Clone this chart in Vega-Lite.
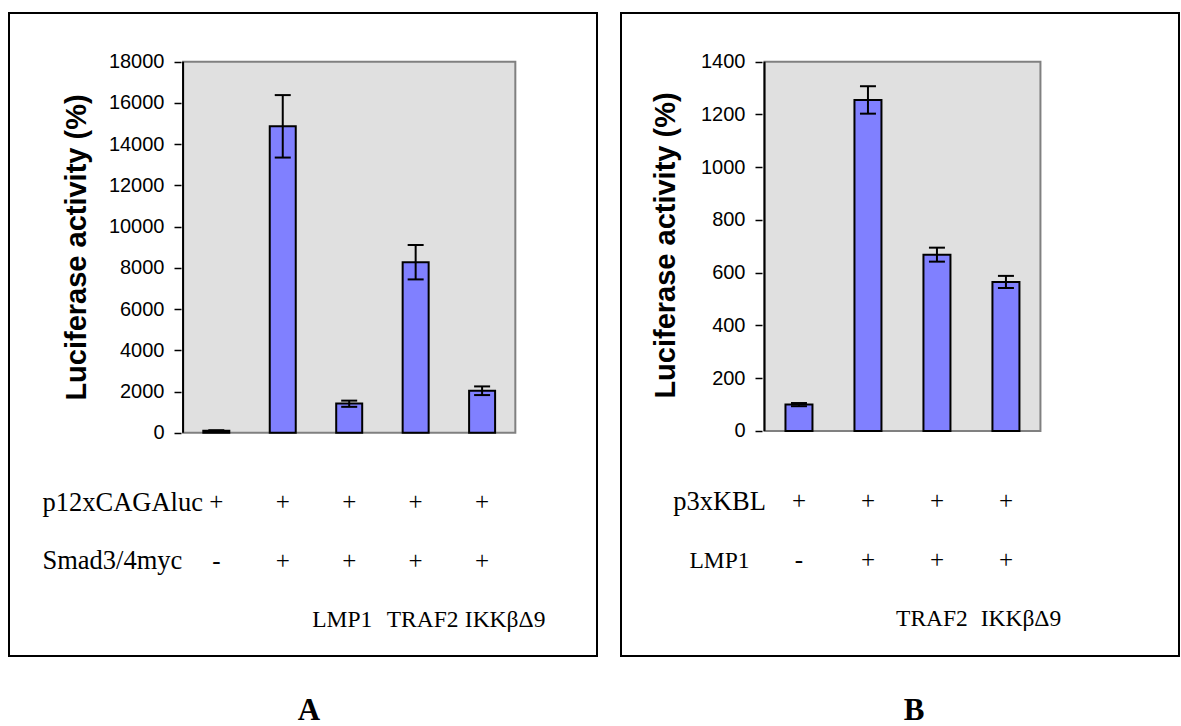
{
  "$schema": "https://vega.github.io/schema/vega-lite/v6.json",
  "background": "white",
  "padding": {"left": 8, "top": 12, "right": 0, "bottom": 0},
  "autosize": {"type": "pad"},
  "config": {"view": {"stroke": "black", "strokeWidth": 2, "fill": "white"}},
  "spacing": 22,
  "datasets": {
    "barsA": [
      {"lane": 1, "sample": "control", "value": 100, "lo": 75, "hi": 125},
      {"lane": 2, "sample": "Smad3/4myc", "value": 14870, "lo": 13350, "hi": 16380},
      {"lane": 3, "sample": "LMP1", "value": 1420, "lo": 1260, "hi": 1560},
      {"lane": 4, "sample": "TRAF2", "value": 8270, "lo": 7440, "hi": 9110},
      {"lane": 5, "sample": "IKKβΔ9", "value": 2040, "lo": 1830, "hi": 2250}
    ],
    "cellsA": [
      {"lane": 1, "row": "p12xCAGAluc", "sign": "+"},
      {"lane": 2, "row": "p12xCAGAluc", "sign": "+"},
      {"lane": 3, "row": "p12xCAGAluc", "sign": "+"},
      {"lane": 4, "row": "p12xCAGAluc", "sign": "+"},
      {"lane": 5, "row": "p12xCAGAluc", "sign": "+"},
      {"lane": 1, "row": "Smad3/4myc", "sign": "-"},
      {"lane": 2, "row": "Smad3/4myc", "sign": "+"},
      {"lane": 3, "row": "Smad3/4myc", "sign": "+"},
      {"lane": 4, "row": "Smad3/4myc", "sign": "+"},
      {"lane": 5, "row": "Smad3/4myc", "sign": "+"}
    ],
    "genesA": [
      {"lane": 3, "row": "genes", "name": "LMP1"},
      {"lane": 4, "row": "genes", "name": "TRAF2"},
      {"lane": 5, "row": "genes", "name": "IKKβΔ9"}
    ],
    "barsB": [
      {"lane": 1, "sample": "control", "value": 100, "lo": 94, "hi": 106},
      {"lane": 2, "sample": "LMP1", "value": 1255, "lo": 1203, "hi": 1307},
      {"lane": 3, "sample": "TRAF2", "value": 668, "lo": 642, "hi": 695},
      {"lane": 4, "sample": "IKKβΔ9", "value": 565, "lo": 542, "hi": 588}
    ],
    "cellsB": [
      {"lane": 1, "row": "p3xKBL", "sign": "+"},
      {"lane": 2, "row": "p3xKBL", "sign": "+"},
      {"lane": 3, "row": "p3xKBL", "sign": "+"},
      {"lane": 4, "row": "p3xKBL", "sign": "+"},
      {"lane": 1, "row": "LMP1", "sign": "-"},
      {"lane": 2, "row": "LMP1", "sign": "+"},
      {"lane": 3, "row": "LMP1", "sign": "+"},
      {"lane": 4, "row": "LMP1", "sign": "+"}
    ],
    "genesB": [
      {"lane": 3, "row": "genes", "name": "TRAF2"},
      {"lane": 4, "row": "genes", "name": "IKKβΔ9"}
    ]
  },
  "hconcat": [
    {
      "width": 588,
      "height": 643,
      "title": {"text": "A", "orient": "bottom", "anchor": "middle", "frame": "group", "font": "Liberation Serif", "fontSize": 31, "fontWeight": "bold", "color": "black", "baseline": "alphabetic", "offset": 64, "dx": 6},
      "resolve": {"scale": {"y": "independent"}, "axis": {"y": "independent"}},
      "layer": [
        {
          "layer": [
            {
              "data": {"values": [{}]},
              "mark": {"type": "rect", "fill": "#e0e0e0", "stroke": "#808080", "strokeWidth": 2, "opacity": 1},
              "encoding": {
                "x": {"datum": 0.5, "type": "quantitative", "scale": {"domain": [-2.0444, 6.6538], "nice": false, "zero": false}, "axis": null},
                "x2": {"datum": 5.5},
                "y": {"datum": 0, "type": "quantitative", "title": "Luciferase activity (%)",
                  "scale": {"domain": [-10826, 20362], "nice": false, "zero": false},
                  "axis": {"orient": "left", "offset": -172, "values": [0, 2000, 4000, 6000, 8000, 10000, 12000, 14000, 16000, 18000], "format": "d", "domain": false, "grid": false, "ticks": true, "tickSize": 7, "tickWidth": 1.5, "tickColor": "black", "labelPadding": 10, "labelFont": "Liberation Sans", "labelFontSize": 20, "labelColor": "black", "labelOverlap": false, "labelFlush": false, "title": "Luciferase activity (%)", "titleFont": "Liberation Sans", "titleFontSize": 29, "titleFontWeight": "bold", "titleColor": "black", "titleX": -90, "titleY": 234, "titleAngle": 270, "titleBaseline": "bottom", "titleAlign": "center", "zindex": 1}},
                "y2": {"datum": 18000}
              }
            },
            {
              "data": {"values": [{}]},
              "mark": {"type": "rule", "stroke": "black", "strokeWidth": 2},
              "encoding": {
                "x": {"datum": 0.5, "type": "quantitative", "axis": null},
                "y": {"datum": 0, "type": "quantitative", "title": "Luciferase activity (%)"},
                "y2": {"datum": 18000}
              }
            },
            {
              "data": {"name": "barsA"},
              "mark": {"type": "bar", "size": 26, "fill": "#8080ff", "stroke": "black", "strokeWidth": 2, "opacity": 1},
              "encoding": {
                "x": {"field": "lane", "type": "quantitative", "axis": null},
                "y": {"field": "value", "type": "quantitative", "title": "Luciferase activity (%)"},
                "y2": {"datum": 0}
              }
            },
            {
              "data": {"name": "barsA"},
              "mark": {"type": "rule", "stroke": "black", "strokeWidth": 2},
              "encoding": {
                "x": {"field": "lane", "type": "quantitative", "axis": null},
                "y": {"field": "lo", "type": "quantitative", "title": "Luciferase activity (%)"},
                "y2": {"field": "hi"}
              }
            },
            {
              "data": {"name": "barsA"},
              "mark": {"type": "tick", "orient": "horizontal", "size": 16, "thickness": 2, "color": "black", "opacity": 1},
              "encoding": {
                "x": {"field": "lane", "type": "quantitative", "axis": null},
                "y": {"field": "lo", "type": "quantitative", "title": "Luciferase activity (%)"}
              }
            },
            {
              "data": {"name": "barsA"},
              "mark": {"type": "tick", "orient": "horizontal", "size": 16, "thickness": 2, "color": "black", "opacity": 1},
              "encoding": {
                "x": {"field": "lane", "type": "quantitative", "axis": null},
                "y": {"field": "hi", "type": "quantitative", "title": "Luciferase activity (%)"}
              }
            }
          ]
        },
        {
          "layer": [
            {
              "data": {"name": "cellsA"},
              "mark": {"type": "text", "font": "Liberation Serif", "fontSize": 25, "align": "center", "baseline": "alphabetic", "color": "black"},
              "encoding": {
                "x": {"field": "lane", "type": "quantitative", "axis": null},
                "y": {"field": "row", "type": "ordinal", "title": null,
                  "scale": {"type": "point", "domain": ["p12xCAGAluc", "Smad3/4myc", "genes"], "range": [497, 614], "padding": 0},
                  "axis": {"orient": "left", "offset": -33, "values": ["p12xCAGAluc", "Smad3/4myc"], "domain": false, "ticks": false, "tickSize": 0, "grid": false, "labelPadding": 0, "labelAlign": "left", "labelBaseline": "alphabetic", "labelFont": "Liberation Serif", "labelFontSize": 26.5, "labelColor": "black", "labelLimit": 400, "labelOverlap": false, "title": null}},
                "text": {"field": "sign"}
              }
            },
            {
              "data": {"name": "genesA"},
              "transform": [{"filter": "datum.name === 'LMP1'"}],
              "mark": {"type": "text", "font": "Liberation Serif", "fontSize": 23.5, "align": "center", "baseline": "alphabetic", "color": "black", "dx": -7},
              "encoding": {
                "x": {"field": "lane", "type": "quantitative", "axis": null},
                "y": {"field": "row", "type": "ordinal", "title": null},
                "text": {"field": "name"}
              }
            },
            {
              "data": {"name": "genesA"},
              "transform": [{"filter": "datum.name === 'TRAF2'"}],
              "mark": {"type": "text", "font": "Liberation Serif", "fontSize": 23.5, "align": "center", "baseline": "alphabetic", "color": "black", "dx": 7},
              "encoding": {
                "x": {"field": "lane", "type": "quantitative", "axis": null},
                "y": {"field": "row", "type": "ordinal", "title": null},
                "text": {"field": "name"}
              }
            },
            {
              "data": {"name": "genesA"},
              "transform": [{"filter": "datum.name === 'IKKβΔ9'"}],
              "mark": {"type": "text", "font": "Liberation Serif", "fontSize": 23.5, "align": "center", "baseline": "alphabetic", "color": "black", "dx": 23},
              "encoding": {
                "x": {"field": "lane", "type": "quantitative", "axis": null},
                "y": {"field": "row", "type": "ordinal", "title": null},
                "text": {"field": "name"}
              }
            }
          ]
        }
      ]
    },
    {
      "width": 558,
      "height": 643,
      "title": {"text": "B", "orient": "bottom", "anchor": "middle", "frame": "group", "font": "Liberation Serif", "fontSize": 31, "fontWeight": "bold", "color": "black", "baseline": "alphabetic", "offset": 64, "dx": 14},
      "resolve": {"scale": {"y": "independent"}, "axis": {"y": "independent"}},
      "layer": [
        {
          "layer": [
            {
              "data": {"values": [{}]},
              "mark": {"type": "rect", "fill": "#e0e0e0", "stroke": "#808080", "strokeWidth": 2, "opacity": 1},
              "encoding": {
                "x": {"datum": 0.5, "type": "quantitative", "scale": {"domain": [-1.5071, 6.4359], "nice": false, "zero": false}, "axis": null},
                "x2": {"datum": 4.5},
                "y": {"datum": 0, "type": "quantitative", "title": "Luciferase activity (%)",
                  "scale": {"domain": [-853, 1584.6], "nice": false, "zero": false},
                  "axis": {"orient": "left", "offset": -141, "values": [0, 200, 400, 600, 800, 1000, 1200, 1400], "format": "d", "domain": false, "grid": false, "ticks": true, "tickSize": 7, "tickWidth": 1.5, "tickColor": "black", "labelPadding": 10, "labelFont": "Liberation Sans", "labelFontSize": 20, "labelColor": "black", "labelOverlap": false, "labelFlush": false, "title": "Luciferase activity (%)", "titleFont": "Liberation Sans", "titleFontSize": 29, "titleFontWeight": "bold", "titleColor": "black", "titleX": -81.5, "titleY": 232, "titleAngle": 270, "titleBaseline": "bottom", "titleAlign": "center", "zindex": 1}},
                "y2": {"datum": 1400}
              }
            },
            {
              "data": {"values": [{}]},
              "mark": {"type": "rule", "stroke": "black", "strokeWidth": 2},
              "encoding": {
                "x": {"datum": 0.5, "type": "quantitative", "axis": null},
                "y": {"datum": 0, "type": "quantitative", "title": "Luciferase activity (%)"},
                "y2": {"datum": 1400}
              }
            },
            {
              "data": {"name": "barsB"},
              "mark": {"type": "bar", "size": 27, "fill": "#8080ff", "stroke": "black", "strokeWidth": 2, "opacity": 1},
              "encoding": {
                "x": {"field": "lane", "type": "quantitative", "axis": null},
                "y": {"field": "value", "type": "quantitative", "title": "Luciferase activity (%)"},
                "y2": {"datum": 0}
              }
            },
            {
              "data": {"name": "barsB"},
              "mark": {"type": "rule", "stroke": "black", "strokeWidth": 2},
              "encoding": {
                "x": {"field": "lane", "type": "quantitative", "axis": null},
                "y": {"field": "lo", "type": "quantitative", "title": "Luciferase activity (%)"},
                "y2": {"field": "hi"}
              }
            },
            {
              "data": {"name": "barsB"},
              "mark": {"type": "tick", "orient": "horizontal", "size": 16, "thickness": 2, "color": "black", "opacity": 1},
              "encoding": {
                "x": {"field": "lane", "type": "quantitative", "axis": null},
                "y": {"field": "lo", "type": "quantitative", "title": "Luciferase activity (%)"}
              }
            },
            {
              "data": {"name": "barsB"},
              "mark": {"type": "tick", "orient": "horizontal", "size": 16, "thickness": 2, "color": "black", "opacity": 1},
              "encoding": {
                "x": {"field": "lane", "type": "quantitative", "axis": null},
                "y": {"field": "hi", "type": "quantitative", "title": "Luciferase activity (%)"}
              }
            }
          ]
        },
        {
          "layer": [
            {
              "data": {"name": "cellsB"},
              "mark": {"type": "text", "font": "Liberation Serif", "fontSize": 25, "align": "center", "baseline": "alphabetic", "color": "black"},
              "encoding": {
                "x": {"field": "lane", "type": "quantitative", "axis": null},
                "y": {"field": "row", "type": "ordinal", "title": null,
                  "scale": {"type": "point", "domain": ["p3xKBL", "LMP1", "genes"], "range": [496, 613], "padding": 0},
                  "axis": {"orient": "left", "offset": -98, "values": ["p3xKBL", "LMP1"], "domain": false, "ticks": false, "tickSize": 0, "grid": false, "labelPadding": 0, "labelAlign": "center", "labelBaseline": "alphabetic", "labelFont": "Liberation Serif", "labelFontSize": {"condition": {"test": "datum.value === 'LMP1'", "value": 23.5}, "value": 26.5}, "labelColor": "black", "labelLimit": 400, "labelOverlap": false, "title": null}},
                "text": {"field": "sign"}
              }
            },
            {
              "data": {"name": "genesB"},
              "transform": [{"filter": "datum.name === 'TRAF2'"}],
              "mark": {"type": "text", "font": "Liberation Serif", "fontSize": 23.5, "align": "center", "baseline": "alphabetic", "color": "black", "dx": -5},
              "encoding": {
                "x": {"field": "lane", "type": "quantitative", "axis": null},
                "y": {"field": "row", "type": "ordinal", "title": null},
                "text": {"field": "name"}
              }
            },
            {
              "data": {"name": "genesB"},
              "transform": [{"filter": "datum.name === 'IKKβΔ9'"}],
              "mark": {"type": "text", "font": "Liberation Serif", "fontSize": 23.5, "align": "center", "baseline": "alphabetic", "color": "black", "dx": 15},
              "encoding": {
                "x": {"field": "lane", "type": "quantitative", "axis": null},
                "y": {"field": "row", "type": "ordinal", "title": null},
                "text": {"field": "name"}
              }
            }
          ]
        }
      ]
    }
  ]
}
